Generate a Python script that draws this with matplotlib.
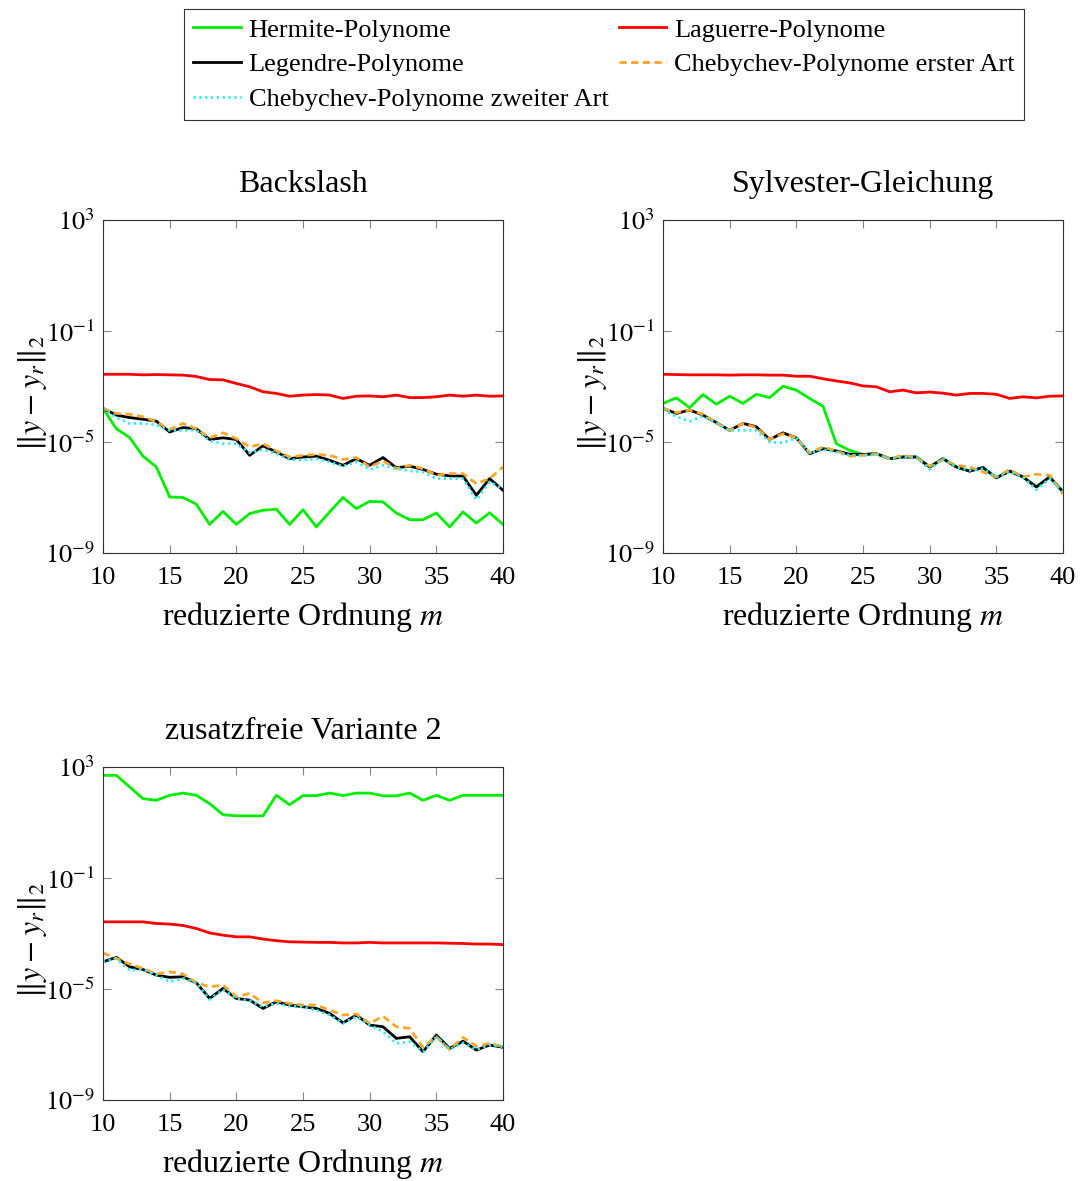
import numpy as np
import matplotlib
matplotlib.use('Agg')
import matplotlib.pyplot as plt

plt.rcParams['font.family'] = ['Liberation Serif', 'DejaVu Serif']
plt.rcParams['mathtext.fontset'] = 'stix'

# %% Data (log10 of the error)
m = np.arange(10, 41)

# Backslash
herm_bs = [-3.79, -4.52, -4.84, -5.51, -5.90, -6.98, -7.00, -7.24, -7.97, -7.50, -7.97, -7.58, -7.46, -7.42, -7.97, -7.44,
           -8.06, -7.52, -7.00, -7.40, -7.14, -7.16, -7.56, -7.80, -7.80, -7.56, -8.06, -7.52, -7.92, -7.55, -7.97]
lag_bs = [-2.56, -2.56, -2.56, -2.58, -2.57, -2.58, -2.59, -2.64, -2.75, -2.76, -2.89, -3.01, -3.19, -3.25, -3.35, -3.31,
          -3.29, -3.31, -3.43, -3.35, -3.34, -3.37, -3.31, -3.40, -3.40, -3.37, -3.31, -3.35, -3.31, -3.35, -3.34]
leg_bs = [-3.79, -4.03, -4.12, -4.18, -4.25, -4.64, -4.48, -4.52, -4.91, -4.85, -4.91, -5.48, -5.14, -5.36, -5.60, -5.54,
          -5.51, -5.66, -5.84, -5.60, -5.84, -5.56, -5.93, -5.87, -5.99, -6.16, -6.22, -6.23, -6.92, -6.32, -6.74]
cheb1_bs = [-3.79, -3.97, -4.00, -4.09, -4.27, -4.55, -4.33, -4.52, -4.85, -4.67, -4.88, -5.18, -5.06, -5.32, -5.54, -5.48,
            -5.45, -5.48, -5.63, -5.56, -5.90, -5.68, -5.96, -5.84, -5.96, -6.20, -6.14, -6.14, -6.50, -6.32, -5.90]
cheb2_bs = [-3.79, -4.12, -4.33, -4.33, -4.39, -4.58, -4.58, -4.58, -4.96, -5.06, -5.06, -5.39, -5.27, -5.42, -5.63, -5.66,
            -5.60, -5.72, -5.87, -5.72, -5.99, -5.84, -5.96, -6.04, -6.08, -6.32, -6.32, -6.32, -7.08, -6.44, -6.68]

# Sylvester-Gleichung
herm_sy = [-3.61, -3.41, -3.76, -3.29, -3.64, -3.35, -3.61, -3.28, -3.40, -2.99, -3.13, -3.43, -3.71, -5.06, -5.30, -5.45,
           -5.42, -5.60, -5.54, -5.54, -5.90, -5.60, -5.90, -6.05, -5.92, -6.29, -6.05, -6.26, -6.62, -6.26, -6.80]
lag_sy = [-2.56, -2.57, -2.58, -2.58, -2.58, -2.59, -2.58, -2.58, -2.59, -2.59, -2.63, -2.63, -2.72, -2.80, -2.87, -2.98,
          -3.01, -3.19, -3.13, -3.23, -3.20, -3.24, -3.31, -3.25, -3.25, -3.28, -3.43, -3.37, -3.41, -3.35, -3.34]
leg_sy = [-3.79, -3.97, -3.85, -4.03, -4.30, -4.58, -4.33, -4.45, -4.91, -4.67, -4.85, -5.42, -5.24, -5.32, -5.44, -5.45,
          -5.42, -5.60, -5.54, -5.54, -5.90, -5.60, -5.90, -6.05, -5.92, -6.29, -6.05, -6.26, -6.62, -6.26, -6.80]
cheb1_sy = [-3.79, -3.94, -3.85, -4.00, -4.30, -4.58, -4.33, -4.48, -4.91, -4.70, -4.85, -5.39, -5.18, -5.32, -5.51, -5.48,
            -5.42, -5.60, -5.48, -5.56, -5.87, -5.63, -5.84, -5.90, -6.08, -6.26, -5.99, -6.26, -6.16, -6.20, -6.88]
cheb2_sy = [-3.82, -4.09, -4.25, -4.07, -4.33, -4.58, -4.58, -4.58, -5.00, -5.03, -4.85, -5.39, -5.27, -5.36, -5.48, -5.48,
            -5.45, -5.60, -5.54, -5.54, -5.98, -5.60, -5.90, -6.02, -5.96, -6.26, -6.08, -6.26, -6.72, -6.32, -6.80]

# zusatzfreie Variante 2
herm_zf = [2.70, 2.70, 2.28, 1.86, 1.80, 1.98, 2.06, 1.98, 1.68, 1.28, 1.24, 1.24, 1.24, 1.98, 1.64, 1.97,
           1.97, 2.06, 1.97, 2.06, 2.06, 1.96, 1.96, 2.06, 1.80, 1.98, 1.80, 1.98, 1.98, 1.98, 1.98]
lag_zf = [-2.58, -2.58, -2.58, -2.58, -2.64, -2.66, -2.71, -2.82, -2.98, -3.06, -3.12, -3.12, -3.20, -3.26, -3.30, -3.31,
          -3.32, -3.32, -3.34, -3.34, -3.32, -3.34, -3.34, -3.34, -3.34, -3.34, -3.35, -3.36, -3.38, -3.38, -3.40]
leg_zf = [-4.02, -3.86, -4.20, -4.30, -4.50, -4.58, -4.56, -4.78, -5.34, -4.98, -5.34, -5.40, -5.70, -5.46, -5.58, -5.64,
          -5.70, -5.88, -6.22, -5.94, -6.30, -6.36, -6.78, -6.72, -7.26, -6.66, -7.14, -6.88, -7.20, -7.02, -7.10]
cheb1_zf = [-3.70, -3.90, -4.10, -4.26, -4.46, -4.38, -4.46, -4.78, -4.92, -4.86, -5.28, -5.16, -5.50, -5.42, -5.52, -5.58,
            -5.58, -5.76, -5.94, -5.90, -6.24, -5.98, -6.36, -6.42, -7.10, -6.72, -7.18, -6.74, -7.06, -6.96, -7.08]
cheb2_zf = [-4.02, -3.90, -4.32, -4.30, -4.50, -4.74, -4.62, -4.78, -5.38, -5.02, -5.34, -5.42, -5.64, -5.52, -5.62, -5.64,
            -5.76, -5.94, -6.24, -6.00, -6.30, -6.54, -6.96, -6.90, -7.26, -6.72, -7.18, -6.94, -7.18, -7.02, -7.08]

labels = ['Hermite-Polynome', 'Laguerre-Polynome', 'Legendre-Polynome',
          'Chebychev-Polynome erster Art', 'Chebychev-Polynome zweiter Art']
titles = ['Backslash', 'Sylvester-Gleichung', 'zusatzfreie Variante 2']
xticks = [10, 15, 20, 25, 30, 35, 40]
yticks = [1e-9, 1e-5, 1e-1, 1e3]

panels = [[herm_bs, lag_bs, leg_bs, cheb1_bs, cheb2_bs],
          [herm_sy, lag_sy, leg_sy, cheb1_sy, cheb2_sy],
          [herm_zf, lag_zf, leg_zf, cheb1_zf, cheb2_zf]]

styles = [dict(color='#00ee00', linestyle='-'),
          dict(color='#ff0000', linestyle='-'),
          dict(color='black', linestyle='-'),
          dict(color='#ffa526', linestyle=(0, (2.6, 1.6))),
          dict(color='#22eeff', linestyle=(0, (0.8, 1.3)))]

# %% Plot
fs_tick = 19
fs_lab = 23
fig = plt.figure(figsize=(10.86, 11.81), dpi=100)
rects = [[103 / 1086, 1 - 553 / 1181, 400 / 1086, 333 / 1181],
         [663 / 1086, 1 - 553 / 1181, 400 / 1086, 333 / 1181],
         [103 / 1086, 1 - 1100 / 1181, 400 / 1086, 333 / 1181]]

handles = []
for k, (rect, series) in enumerate(zip(rects, panels)):
    ax = fig.add_axes(rect)
    hs = []
    for vals, lab, st in zip(series, labels, styles):
        h, = ax.plot(m, 10.0 ** np.asarray(vals), linewidth=2.0, label=lab, **st)
        hs.append(h)
    if k == 0:
        handles = hs
    ax.set_yscale('log')
    ax.set_xlim(10, 40)
    ax.set_ylim(1e-9, 1e3)
    ax.set_xticks(xticks)
    ax.set_xticklabels([str(t) for t in xticks])
    ax.set_yticks(yticks)
    ax.set_yticklabels([r'$10^{-9}$', r'$10^{-5}$', r'$10^{-1}$', r'$10^{3}$'])
    ax.minorticks_off()
    ax.tick_params(direction='in', top=True, right=True, length=6, width=0.8,
                   color='#888888', labelsize=fs_tick)
    ax.tick_params(axis='x', pad=10)
    ax.tick_params(axis='y', pad=6)
    for sp in ax.spines.values():
        sp.set_color('#333333')
        sp.set_linewidth(0.8)
    ax.set_title(titles[k], fontsize=fs_lab, pad=20)
    ax.set_xlabel(r'reduzierte Ordnung $m$', fontsize=fs_lab, labelpad=8)
    ax.set_ylabel(r'$\|y - y_r\|_2$', fontsize=fs_lab)
    ax.yaxis.set_label_coords(-0.135, 0.48)

order = [0, 2, 4, 1, 3]
leg = fig.legend([handles[i] for i in order], [labels[i] for i in order],
                 loc='upper left', bbox_to_anchor=(184 / 1086, 1 - 9 / 1181, 840 / 1086, 0.0),
                 mode='expand', ncol=2, fontsize=fs_tick, frameon=True, fancybox=False,
                 edgecolor='black', handlelength=1.8, handletextpad=0.3,
                 borderpad=0.35, labelspacing=0.42, borderaxespad=0.0)
leg.get_frame().set_linewidth(0.8)

fig.savefig('out.png', dpi=100)
